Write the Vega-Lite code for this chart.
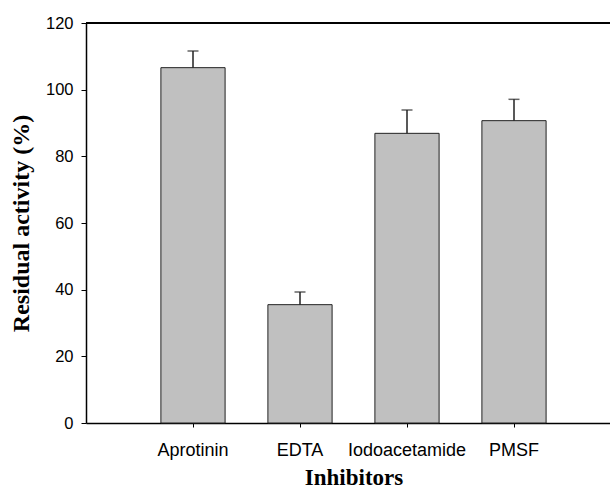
{
  "$schema": "https://vega.github.io/schema/vega-lite/v6.json",
  "width": 524,
  "height": 400,
  "padding": {"left": 86, "top": 23, "right": 0, "bottom": 65},
  "autosize": {"type": "none"},
  "background": "white",
  "config": {"view": {"stroke": null}},
  "data": {"values": [
    {"inhibitor": "Aprotinin", "activity": 106.6, "err": 5.0},
    {"inhibitor": "EDTA", "activity": 35.5, "err": 3.8},
    {"inhibitor": "Iodoacetamide", "activity": 86.9, "err": 7.0},
    {"inhibitor": "PMSF", "activity": 90.7, "err": 6.4}
  ]},
  "transform": [{"calculate": "datum.activity + datum.err", "as": "upper"}],
  "layer": [
    {
      "mark": {"type": "bar", "color": "#c0c0c0", "stroke": "#222222", "strokeWidth": 1},
      "encoding": {
        "x": {
          "field": "inhibitor", "type": "nominal", "sort": null,
          "scale": {"range": [0, 535], "paddingInner": 0.4, "paddingOuter": 0.7},
          "axis": {
            "title": "Inhibitors", "titleFont": "Liberation Serif", "titleFontWeight": "bold",
            "titleFontSize": 23, "titleColor": "black", "titlePadding": 7,
            "labelFont": "Liberation Sans", "labelFontSize": 18, "labelColor": "black",
            "labelAngle": 0, "labelPadding": 14,
            "tickColor": "black", "tickSize": 4, "domainColor": "black", "domainWidth": 1.5
          }
        },
        "y": {
          "field": "activity", "type": "quantitative",
          "scale": {"domain": [0, 120], "nice": false},
          "axis": {
            "title": "Residual activity (%)", "titleFont": "Liberation Serif", "titleFontWeight": "bold",
            "titleFontSize": 24, "titleColor": "black", "titlePadding": 12,
            "values": [0, 20, 40, 60, 80, 100, 120], "grid": false,
            "labelFont": "Liberation Sans", "labelFontSize": 16.5, "labelColor": "black", "labelPadding": 8,
            "tickColor": "black", "tickSize": 5, "domainColor": "black", "domainWidth": 1.5
          }
        }
      }
    },
    {
      "mark": {"type": "rule", "color": "#222222", "strokeWidth": 1.5},
      "encoding": {
        "x": {"field": "inhibitor", "type": "nominal", "sort": null},
        "y": {"field": "activity", "type": "quantitative"},
        "y2": {"field": "upper"}
      }
    },
    {
      "mark": {"type": "tick", "color": "#222222", "thickness": 1.5, "size": 11, "orient": "horizontal"},
      "encoding": {
        "x": {"field": "inhibitor", "type": "nominal", "sort": null},
        "y": {"field": "upper", "type": "quantitative"}
      }
    },
    {
      "mark": {"type": "rule", "color": "black", "strokeWidth": 1.5},
      "encoding": {"y": {"datum": 120}}
    }
  ]
}
